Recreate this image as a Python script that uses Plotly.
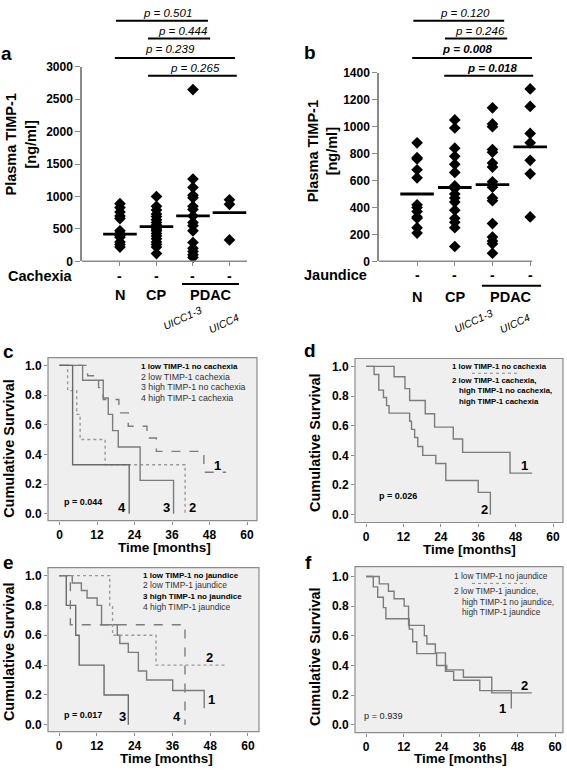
import plotly.graph_objects as go

W, H = 567, 774
FONT = "Liberation Sans, Arial, sans-serif"

# ---------------- data ----------------
groups = ["N", "CP", "UICC1-3", "UICC4"]
group_pos = [0, 1, 2, 3]

# panel a: plasma TIMP-1 by cachexia
a_N = [890, 830, 760, 700, 660, 470, 430, 400, 370, 300, 260, 220]
a_CP = [1000, 850, 790, 730, 690, 640, 600, 560, 530, 500, 470, 430, 390, 350, 300, 260, 220, 120]
a_UICC13 = [2650, 1270, 1140, 1020, 980, 850, 800, 700, 600, 550, 470, 290, 200, 150, 100, 60]
a_UICC4 = [950, 880, 330]
a_center = [420, 535, 700, 750]
a_yticks = [0, 500, 1000, 1500, 2000, 2500, 3000]
a_pvals = ["p = 0.501", "p = 0.444", "p = 0.239", "p = 0.265"]
a_pbold = [False, False, False, False]
a_pfrom = [-0.11, 0.77, -0.14, 0.77]
a_pto = [2.41, 2.47, 3.15, 3.20]
a_ptext_x = [1.30, 1.72, 1.37, 2.05]

# panel b: plasma TIMP-1 by jaundice
b_N = [880, 770, 760, 680, 620, 420, 400, 370, 330, 320, 250, 210]
b_CP = [1050, 990, 840, 780, 720, 660, 560, 540, 500, 470, 440, 380, 320, 290, 250, 110]
b_UICC13 = [1140, 1020, 1000, 830, 810, 730, 700, 590, 550, 470, 450, 280, 180, 150, 130, 60]
b_UICC4 = [1280, 1150, 950, 880, 750, 650, 330]
b_center = [500, 548, 570, 850]
b_yticks = [0, 200, 400, 600, 800, 1000, 1200, 1400]
b_pvals = ["p = 0.120", "p = 0.246", "p = 0.008", "p = 0.018"]
b_pbold = [False, False, True, True]
b_pfrom = [-0.10, 0.74, -0.13, 0.72]
b_pto = [2.31, 2.39, 3.05, 3.08]
b_ptext_x = [1.27, 1.67, 1.33, 1.99]

# Kaplan-Meier curves (time in months, cumulative survival)
low_nocach_t = [0, 9.0, 12.5, 14.0, 19.0, 22.0, 28.0, 31.0, 46.2, 53.3]
low_nocach_s = [1.0, 0.93, 0.85, 0.77, 0.68, 0.59, 0.51, 0.42, 0.28, 0.28]
low_cach_t = [0, 2.6, 5.5, 6.6, 14.6, 40.2]
low_cach_s = [1.0, 0.83, 0.67, 0.50, 0.33, 0.0]
high_nocach_t = [0, 7.4, 14.0, 15.6, 17.0, 18.8, 25.8, 36.5]
high_nocach_s = [1.0, 0.90, 0.78, 0.67, 0.56, 0.45, 0.225, 0.0]
high_cach_t = [0, 4.2, 22.3]
high_cach_s = [1.0, 0.33, 0.0]
other_cach_t = [0, 2.6, 4.1, 5.6, 6.6, 7.4, 14.0, 14.6, 15.6, 16.6, 18.2, 22.4, 25.6, 36.0, 39.9]
other_cach_s = [1.0, 0.945, 0.84, 0.79, 0.735, 0.685, 0.63, 0.575, 0.52, 0.46, 0.40, 0.345, 0.23, 0.15, 0.0]

low_nojaun_t = [0, 4.2, 7.1, 8.9, 12.1, 13.5, 18.5, 19.3, 22.0, 25.2, 27.8, 36.1, 46.1]
low_nojaun_s = [1.0, 0.95, 0.90, 0.85, 0.80, 0.67, 0.60, 0.545, 0.485, 0.36, 0.30, 0.23, 0.11]
low_jaun_t = [0, 16.1, 17.0, 30.8, 53.3]
low_jaun_s = [1.0, 0.80, 0.60, 0.40, 0.40]
high_nojaun_t = [0, 2.3, 5.3, 6.4, 14.3, 22.0]
high_nojaun_s = [1.0, 0.80, 0.60, 0.40, 0.20, 0.0]
high_jaun_t = [0, 3.6, 40.0]
high_jaun_s = [1.0, 0.67, 0.0]
other_jaun_t = [0, 2.3, 3.7, 5.5, 6.3, 13.7, 14.8, 16.1, 22.4, 25.6, 30.9, 39.9, 52.6]
other_jaun_s = [1.0, 0.93, 0.86, 0.79, 0.715, 0.645, 0.56, 0.48, 0.40, 0.37, 0.32, 0.215, 0.215]

km_xticks = [0, 12, 24, 36, 48, 60]
km_yticks = [0.0, 0.2, 0.4, 0.6, 0.8, 1.0]

c_legend = ["1 low TIMP-1 no cachexia", "2 low TIMP-1 cachexia",
            "3 high TIMP-1 no cachexia", "4 high TIMP-1 cachexia"]
c_legend_bold = [True, False, False, False]
d_legend = ["1 low TIMP-1 no cachexia", "2 low TIMP-1 cachexia,",
            "high TIMP-1 no cachexia,", "high TIMP-1 cachexia"]
e_legend = ["1 low TIMP-1 no jaundice", "2 low TIMP-1 jaundice",
            "3 high TIMP-1 no jaundice", "4 high TIMP-1 jaundice"]
e_legend_bold = [True, False, True, False]
f_legend = ["1 low TIMP-1 no jaundice", "2 low TIMP-1 jaundice,",
            "high TIMP-1 no jaundice,", "high TIMP-1 jaundice"]

# ---------------- helpers ----------------
def px(x):
    return x / W


def py(y):
    return 1 - y / H


def dom_x(l, r):
    return [l / W, r / W]


def dom_y(t, b):
    return [1 - b / H, 1 - t / H]


fig = go.Figure()
annotations = []
shapes = []


def ann(text, x, y, size, bold=False, italic=False, xanchor="center", color="black",
        angle=0, xref="paper", yref="paper", yanchor="middle"):
    if bold:
        text = "<b>" + text + "</b>"
    if italic:
        text = "<i>" + text + "</i>"
    annotations.append(dict(text=text, x=x, y=y, xref=xref, yref=yref, showarrow=False,
                            xanchor=xanchor, yanchor=yanchor, textangle=angle, borderpad=0,
                            font=dict(family=FONT, size=size, color=color)))


AXGREY = "#8a8a8a"

# ---------------- panels a and b (dot plots) ----------------
def dot_panel(xa, ya, vals_list, centers):
    for pos, vals in zip(group_pos, vals_list):
        fig.add_trace(go.Scatter(x=[pos] * len(vals), y=vals, mode="markers",
                                 marker=dict(symbol="diamond", size=9, color="black"),
                                 cliponaxis=False, xaxis=xa, yaxis=ya, showlegend=False,
                                 hoverinfo="skip"))
    fig.add_trace(go.Scatter(x=group_pos, y=centers, mode="markers",
                             marker=dict(symbol="line-ew", size=24,
                                         line=dict(width=2.8, color="black")),
                             cliponaxis=False, xaxis=xa, yaxis=ya, showlegend=False,
                             hoverinfo="skip"))


dot_panel("x", "y", [a_N, a_CP, a_UICC13, a_UICC4], a_center)
dot_panel("x2", "y2", [b_N, b_CP, b_UICC13, b_UICC4], b_center)

# p-value bars (rows from top)
bar_rows_px = [14, 32, 52, 70]
text_rows_px = [6, 24, 43, 62]


def pbars(xref, labels, bolds, froms, tos, tx):
    for lab, bd, f0, t0, x, yb, yt in zip(labels, bolds, froms, tos, tx, bar_rows_px, text_rows_px):
        shapes.append(dict(type="line", xref=xref, yref="paper", x0=f0, x1=t0,
                           y0=py(yb), y1=py(yb), line=dict(color="black", width=2)))
        ann(lab, x, py(yt), 11.5, bold=bd, italic=True, xref=xref)


pbars("x", a_pvals, a_pbold, a_pfrom, a_pto, a_ptext_x)
pbars("x2", b_pvals, b_pbold, b_pfrom, b_pto, b_ptext_x)

# x axis baselines
shapes.append(dict(type="line", xref="x", yref="y domain", x0=-1.04, x1=3.48, y0=0, y1=0,
                   line=dict(color=AXGREY, width=1.5)))
shapes.append(dict(type="line", xref="x2", yref="y2 domain", x0=-1.01, x1=3.05, y0=0, y1=0,
                   line=dict(color=AXGREY, width=1.5)))

# category labels under a / b
for xref, row_label, lab_x, dash_y, name_y, line_y, pdac_from, pdac_to, u_pos in [
        ("x", "Cachexia", 7, 274, 293, 282, 1.70, 3.26, [(182, 317), (224, 322)]),
        ("x2", "Jaundice", 303, 273, 295, 284, 1.72, 3.29, [(473, 320), (515, 322)])]:
    ann(row_label, px(lab_x), py(dash_y), 14.5, bold=True, xanchor="left")
    for pos in group_pos:
        ann("-", pos, py(dash_y), 14, bold=True, xref=xref)
    ann("N", 0, py(name_y), 14.5, bold=True, xref=xref)
    ann("CP", 1, py(name_y), 14.5, bold=True, xref=xref)
    ann("PDAC", 2.5, py(name_y), 14.5, bold=True, xref=xref)
    shapes.append(dict(type="line", xref=xref, yref="paper", x0=pdac_from, x1=pdac_to,
                       y0=py(line_y), y1=py(line_y), line=dict(color="black", width=2)))
    for (ux, uy), txt in zip(u_pos, ["UICC1-3", "UICC4"]):
        ann(txt, px(ux), py(uy), 10.5, italic=True, angle=-25)

# y titles a / b
ann("Plasma TIMP-1", px(11), py(140), 14.5, bold=True, angle=-90)
ann("[ng/ml]", px(31), py(140), 14.5, bold=True, angle=-90)
ann("Plasma TIMP-1", px(313), py(147), 14.5, bold=True, angle=-90)
ann("[ng/ml]", px(332), py(147), 14.5, bold=True, angle=-90)

# panel letters
for letter, lx, ly in [("a", 6, 47), ("b", 310, 46), ("c", 8, 351), ("d", 310, 350),
                       ("e", 8, 566), ("f", 308, 566)]:
    ann(letter, px(lx), py(ly), 19, bold=True)

# ---------------- KM panels ----------------
GREY = "#7c7c7c"


def km(xa, ya, t, s, dash="solid", color=GREY, width=1.4):
    fig.add_trace(go.Scatter(x=t, y=s, mode="lines",
                             line=dict(shape="hv", color=color, width=width, dash=dash),
                             xaxis=xa, yaxis=ya, showlegend=False, hoverinfo="skip"))


# c
km("x3", "y3", low_nocach_t, low_nocach_s, dash="dash")
km("x3", "y3", low_cach_t, low_cach_s, dash="dot", color="#9a9a9a")
km("x3", "y3", high_nocach_t, high_nocach_s)
km("x3", "y3", high_cach_t, high_cach_s, color="#6a6a6a")
# d
km("x4", "y4", low_nocach_t, low_nocach_s)
km("x4", "y4", other_cach_t, other_cach_s)
# e
km("x5", "y5", low_nojaun_t, low_nojaun_s)
km("x5", "y5", low_jaun_t, low_jaun_s, dash="dot", color="#9a9a9a")
km("x5", "y5", high_nojaun_t, high_nojaun_s, color="#6a6a6a")
km("x5", "y5", high_jaun_t, high_jaun_s, dash="dash")
# f
km("x6", "y6", low_nojaun_t, low_nojaun_s)
km("x6", "y6", other_jaun_t, other_jaun_s)

for xa in ["x3", "x4", "x5", "x6"]:
    shapes.append(dict(type="rect", xref=xa + " domain", yref=xa.replace("x", "y") + " domain",
                       x0=0, x1=1, y0=0, y1=1, fillcolor="#efefef",
                       line=dict(color="#8c8c8c", width=1.2), layer="below"))

# curve number labels (month, survival)
for xa, lab, mx, sy in [("x3", "1", 50.4, 0.325), ("x3", "2", 42.4, 0.04), ("x3", "3", 34.1, 0.04),
                        ("x3", "4", 20.0, 0.04),
                        ("x4", "1", 50.7, 0.33), ("x4", "2", 37.9, 0.033),
                        ("x5", "2", 47.9, 0.454), ("x5", "1", 48.3, 0.171), ("x5", "3", 20.0, 0.053),
                        ("x5", "4", 37.5, 0.053),
                        ("x6", "2", 50.2, 0.263), ("x6", "1", 43.2, 0.112)]:
    ann(lab, mx, sy, 13, bold=True, xref=xa, yref=xa.replace("x", "y"))

# p values in KM panels
ann("p = 0.044", px(83), py(504), 9, bold=True)
ann("p = 0.026", px(398), py(498), 9, bold=True)
ann("p = 0.017", px(83), py(721), 9, bold=True)
ann("p = 0.939", px(383), py(722), 9.2, color="#222")

# legends
LB, LN = 8.0, 8.5
for txt, bd, yy in zip(c_legend, c_legend_bold, [366, 377, 387, 398]):
    ann(txt, px(140), py(yy), LB if bd else LN + 0.3, bold=bd, xanchor="left",
        color="black" if bd else "#333")
for txt, bd, yy in zip(e_legend, e_legend_bold, [579, 589, 600, 611]):
    ann(txt, px(142), py(yy), LB if bd else LN, bold=bd, xanchor="left",
        color="black" if bd else "#333")
for txt, xx, yy in zip(d_legend, [451, 451, 458, 458], [366, 380, 391, 402]):
    ann(txt, px(xx), py(yy), 7.8, bold=True, xanchor="left")
for txt, xx, yy in zip(f_legend, [453, 453, 461, 461], [579, 595, 606, 616]):
    ann(txt, px(xx), py(yy), 8.3, xanchor="left", color="#333")
shapes.append(dict(type="line", xref="paper", yref="paper", x0=px(472), x1=px(518),
                   y0=py(373), y1=py(373), line=dict(color="#888", width=1, dash="dot")))
shapes.append(dict(type="line", xref="paper", yref="paper", x0=px(472), x1=px(527),
                   y0=py(587), y1=py(587), line=dict(color="#888", width=1, dash="dot")))

# axis titles KM
for xx, yy in [(9, 450), (315, 444), (9, 657), (315, 662)]:
    ann("Cumulative Survival", px(xx), py(yy), 14.5, bold=True, angle=-90)
for xx, yy in [(164, 550), (469, 553), (166, 765), (460, 765)]:
    ann("Time [months]", px(xx), py(yy), 13.5, bold=True)

# ---------------- axes ----------------
tickfont = dict(family=FONT, size=12, color="black")


def dot_yaxis(dom, rng, ticks, anchor):
    return dict(domain=dom, range=rng, tickvals=ticks, ticktext=[f"<b>{v}</b>" for v in ticks],
                showline=True, linecolor=AXGREY, linewidth=1.5, ticks="outside", ticklen=5,
                tickcolor=AXGREY, tickwidth=1.2, showgrid=False, zeroline=False,
                tickfont=tickfont, anchor=anchor)


def dot_xaxis(dom, rng, anchor):
    return dict(domain=dom, range=rng, tickvals=group_pos, showticklabels=False,
                ticks="outside", ticklen=4, tickcolor=AXGREY, tickwidth=1.2,
                showline=False, showgrid=False, zeroline=False, anchor=anchor)


def km_xaxis(dom, rng, anchor):
    return dict(domain=dom, range=rng, tickvals=km_xticks,
                ticktext=[f"<b>{v}</b>" for v in km_xticks], ticks="outside", ticklen=3,
                tickcolor="#8c8c8c", showline=False, showgrid=False, zeroline=False,
                tickfont=tickfont, anchor=anchor)


def km_yaxis(dom, rng, anchor):
    return dict(domain=dom, range=rng, tickvals=km_yticks,
                ticktext=[f"<b>{v:.1f}</b>" for v in km_yticks], ticks="outside", ticklen=3,
                tickcolor="#8c8c8c", showline=False, showgrid=False, zeroline=False,
                tickfont=tickfont, anchor=anchor)


b_left, b_step = 379, 37.7

fig.update_layout(
    width=W, height=H, margin=dict(l=0, r=0, t=0, b=0),
    paper_bgcolor="white", plot_bgcolor="rgba(0,0,0,0)", showlegend=False,
    font=dict(family=FONT),
    xaxis=dot_xaxis(dom_x(82, 247), [-1.04, 3.48], "y"),
    yaxis=dot_yaxis(dom_y(61, 259), [0, 3000], a_yticks, "x"),
    xaxis2=dot_xaxis(dom_x(b_left, b_left + 4.36 * b_step), [-1.01, 3.35], "y2"),
    yaxis2=dot_yaxis(dom_y(67, 259), [0, 1400], b_yticks, "x2"),
    xaxis3=km_xaxis(dom_x(48, 257), [-3.68, 63.2], "y3"),
    yaxis3=km_yaxis(dom_y(357, 523), [-0.046, 1.053], "x3"),
    xaxis4=km_xaxis(dom_x(355, 563), [-3.53, 63.2], "y4"),
    yaxis4=km_yaxis(dom_y(358, 525), [-0.053, 1.053], "x4"),
    xaxis5=km_xaxis(dom_x(48, 259), [-3.5, 63.5], "y5"),
    yaxis5=km_yaxis(dom_y(571, 738), [-0.046, 1.053], "x5"),
    xaxis6=km_xaxis(dom_x(355, 563), [-3.5, 62.5], "y6"),
    yaxis6=km_yaxis(dom_y(570, 739), [-0.053, 1.066], "x6"),
    annotations=annotations, shapes=shapes,
)

fig.write_html("out.html", config={"displayModeBar": False},
               post_script="document.body.style.margin='0';document.body.style.overflow='hidden';")
